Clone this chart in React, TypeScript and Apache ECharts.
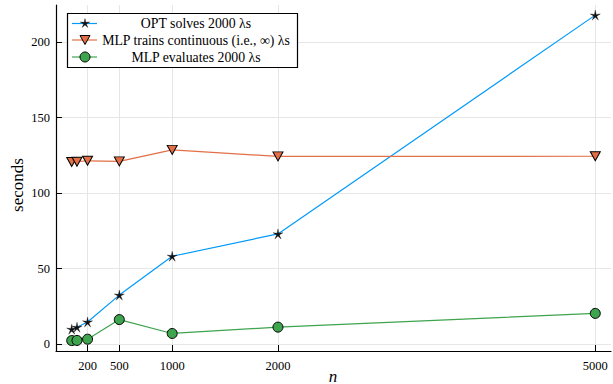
import React, { useEffect, useRef } from "react";
import * as echarts from "echarts";

const nValues = [50, 100, 200, 500, 1000, 2000, 5000];
const optSolves = [9.9, 11.2, 14.7, 32.5, 58.2, 73.0, 217.8];
const mlpTrains = [120.6, 120.8, 121.4, 121.0, 128.6, 124.3, 124.4];
const mlpEvaluates = [2.4, 2.5, 3.3, 16.3, 7.1, 11.3, 20.4];
const xTicks = [200, 500, 1000, 2000, 5000];
const yTicks = [0, 50, 100, 150, 200];
const xName = "n";
const yName = "seconds";
const seriesNames = [
  "OPT solves 2000 λs",
  "MLP trains continuous (i.e., ∞) λs",
  "MLP evaluates 2000 λs",
];

const BLUE = "#009AFA";
const ORANGE = "#E36F47";
const GREEN = "#3EA44E";
const FONT = "'Liberation Serif', serif";

function starPoints(cx: number, cy: number, R: number, r: number): number[][] {
  return Array.from({ length: 10 }, (_, i) => {
    const rr = i % 2 === 0 ? R : r;
    const a = -Math.PI / 2 + (i * Math.PI) / 5;
    return [cx + rr * Math.cos(a), cy + rr * Math.sin(a)];
  });
}
const STAR =
  "path://M" +
  starPoints(10, 10, 10, 2.8)
    .map((p) => `${p[0].toFixed(2)} ${p[1].toFixed(2)}`)
    .join(" L") +
  " Z";

export default function App() {
  const ref = useRef<HTMLDivElement>(null);
  useEffect(() => {
    document.body.style.margin = "0";
    if (!ref.current) return;
    const chart = echarts.init(ref.current, null, { renderer: "svg" });
    const toPairs = (ys: number[]) => nValues.map((x, i) => [x, ys[i]]);
    const legendRow = (i: number, y: number, color: string, marker: any) => [
      {
        type: "line",
        shape: { x1: 72, y1: y, x2: 97, y2: y },
        style: { stroke: color, lineWidth: 1.2 },
      },
      marker,
      {
        type: "text",
        x: 196,
        y: y,
        style: {
          text: seriesNames[i],
          font: `13.8px ${FONT}`,
          fill: "#000",
          align: "center",
          verticalAlign: "middle",
        },
      },
    ];
    const labelStyle = {
      fontFamily: FONT,
      fontSize: 12.5,
      color: "#000",
      formatter: (v: number) => String(v),
    };
    chart.setOption({
      animation: false,
      textStyle: { fontFamily: FONT },
      grid: { left: 56, right: 2, top: 5, bottom: 33, containLabel: false, outerBoundsMode: "none" },
      xAxis: {
        type: "value",
        min: -98.5,
        max: 5148.5,
        axisLine: { show: true, onZero: false, lineStyle: { color: "#000", width: 1.2 } },
        axisTick: { show: true, inside: true, length: 6, customValues: xTicks, lineStyle: { color: "#000" } },
        axisLabel: { ...labelStyle, margin: 8, customValues: xTicks },
        splitLine: { show: true, lineStyle: { color: "#e6e6e6", width: 1 } },
      },
      yAxis: {
        type: "value",
        min: -4.5,
        max: 224.5,
        axisLine: { show: true, onZero: false, lineStyle: { color: "#000", width: 1.2 } },
        axisTick: { show: true, inside: true, length: 6, customValues: yTicks, lineStyle: { color: "#000" } },
        axisLabel: { ...labelStyle, margin: 6, customValues: yTicks },
        splitLine: { show: true, lineStyle: { color: "#e6e6e6", width: 1 } },
      },
      series: [
        {
          name: seriesNames[0],
          type: "line",
          data: toPairs(optSolves),
          symbol: STAR,
          symbolSize: 10,
          lineStyle: { color: BLUE, width: 1.2 },
          itemStyle: { color: "#111", borderColor: "#000", borderWidth: 0.3 },
          z: 3,
        },
        {
          name: seriesNames[1],
          type: "line",
          data: toPairs(mlpTrains),
          symbol: "triangle",
          symbolRotate: 180,
          symbolSize: [10, 9],
          lineStyle: { color: ORANGE, width: 1.2 },
          itemStyle: { color: ORANGE, borderColor: "#000", borderWidth: 1 },
          z: 3,
        },
        {
          name: seriesNames[2],
          type: "line",
          data: toPairs(mlpEvaluates),
          symbol: "circle",
          symbolSize: 10,
          lineStyle: { color: GREEN, width: 1.2 },
          itemStyle: { color: GREEN, borderColor: "#000", borderWidth: 1 },
          z: 3,
        },
      ],
      graphic: [
        {
          type: "text",
          x: 333,
          y: 376,
          style: {
            text: xName,
            font: `italic 17px ${FONT}`,
            fill: "#000",
            align: "center",
            verticalAlign: "middle",
          },
        },
        {
          type: "text",
          x: 17,
          y: 185,
          rotation: Math.PI / 2,
          style: {
            text: yName,
            font: `17px ${FONT}`,
            fill: "#000",
            align: "center",
            verticalAlign: "middle",
          },
        },
        {
          type: "rect",
          shape: { x: 67.5, y: 13.5, width: 230, height: 54 },
          style: { fill: "#fff", stroke: "#000", lineWidth: 1.2 },
        },
        ...legendRow(0, 23.5, BLUE, {
          type: "polygon",
          shape: { points: starPoints(85, 23.5, 5, 1.4) },
          style: { fill: "#111", stroke: "#000", lineWidth: 0.3 },
        }),
        ...legendRow(1, 40, ORANGE, {
          type: "polygon",
          shape: { points: [[80, 35.5], [90, 35.5], [85, 44.5]] },
          style: { fill: ORANGE, stroke: "#000", lineWidth: 1 },
        }),
        ...legendRow(2, 57, GREEN, {
          type: "circle",
          shape: { cx: 85, cy: 57, r: 5 },
          style: { fill: GREEN, stroke: "#000", lineWidth: 1 },
        }),
      ].map((g: any) => ({ ...g, z: 10 })),
    });
    return () => chart.dispose();
  }, []);
  return <div ref={ref} style={{ width: 613, height: 384 }} />;
}
